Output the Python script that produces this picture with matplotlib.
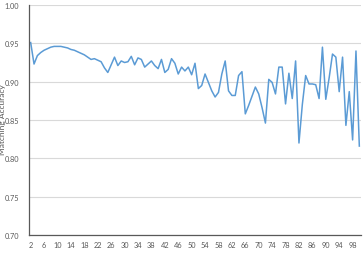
import numpy as np
import matplotlib.pyplot as plt
import matplotlib as mpl

"""
CONFIG
"""
mpl.rcParams['font.family'] = ['Lato', 'DejaVu Sans']

# data, one value per group size 2..100
group_size = list(range(2, 101))
accuracy = [
    0.951, 0.923, 0.934, 0.938, 0.941, 0.943, 0.945, 0.946, 0.946, 0.946,   # 2-11
    0.945, 0.944, 0.942, 0.941, 0.939, 0.937, 0.935, 0.932, 0.929, 0.930,   # 12-21
    0.928, 0.926, 0.918, 0.912, 0.922, 0.932, 0.921, 0.927, 0.925,          # 22-30
    0.926, 0.933, 0.922, 0.931, 0.929, 0.919, 0.923, 0.927, 0.921, 0.917,   # 31-40
    0.929, 0.912, 0.916, 0.930, 0.924, 0.910, 0.919, 0.914, 0.919, 0.909,   # 41-50
    0.924, 0.891, 0.895, 0.910, 0.899, 0.888, 0.880, 0.886, 0.910, 0.927,   # 51-60
    0.888, 0.882, 0.882, 0.908, 0.913, 0.858, 0.869, 0.881, 0.893, 0.884,   # 61-70
    0.866, 0.846, 0.903, 0.899, 0.884, 0.919, 0.919, 0.871, 0.911, 0.878,   # 71-80
    0.927, 0.820, 0.870, 0.908, 0.897, 0.897, 0.896, 0.878, 0.945, 0.877,   # 81-90
    0.905, 0.936, 0.932, 0.887, 0.932, 0.843, 0.887, 0.824, 0.940, 0.816,   # 91-100
]

y_ticks = [0.70, 0.75, 0.80, 0.85, 0.90, 0.95, 1.00]
x_ticks = list(range(2, 100, 4))


def main():
    fig = plt.figure(figsize=(3.64, 2.55), dpi=100)
    ax = fig.add_axes([29 / 364, 1 - 236 / 255, 332 / 364, 230 / 255])

    ax.plot(group_size, accuracy, color='#5B9BD5', linewidth=1.1,
            solid_joinstyle='round')

    ax.set_xlim(1.5, 100.5)
    ax.set_ylim(0.70, 1.00)
    ax.set_yticks(y_ticks)
    ax.set_yticklabels([f'{v:.2f}' for v in y_ticks])
    ax.set_xticks(x_ticks)
    ax.set_xticklabels([str(v) for v in x_ticks])

    ax.grid(axis='y', color='#D9D9D9', linewidth=0.8)
    ax.set_axisbelow(True)
    for s in ['top', 'right']:
        ax.spines[s].set_visible(False)
    for s in ['left', 'bottom']:
        ax.spines[s].set_color('#595959')
        ax.spines[s].set_linewidth(0.9)

    ax.tick_params(axis='both', length=0, labelsize=5.3, colors='#595959')
    ax.tick_params(axis='y', pad=7)
    ax.tick_params(axis='x', pad=4)

    fig.text(-0.002, 0.53, 'Matching Accuracy', rotation=90, ha='left',
             va='center', fontsize=6, color='#595959')

    fig.savefig('out.png', dpi=100)


main()
